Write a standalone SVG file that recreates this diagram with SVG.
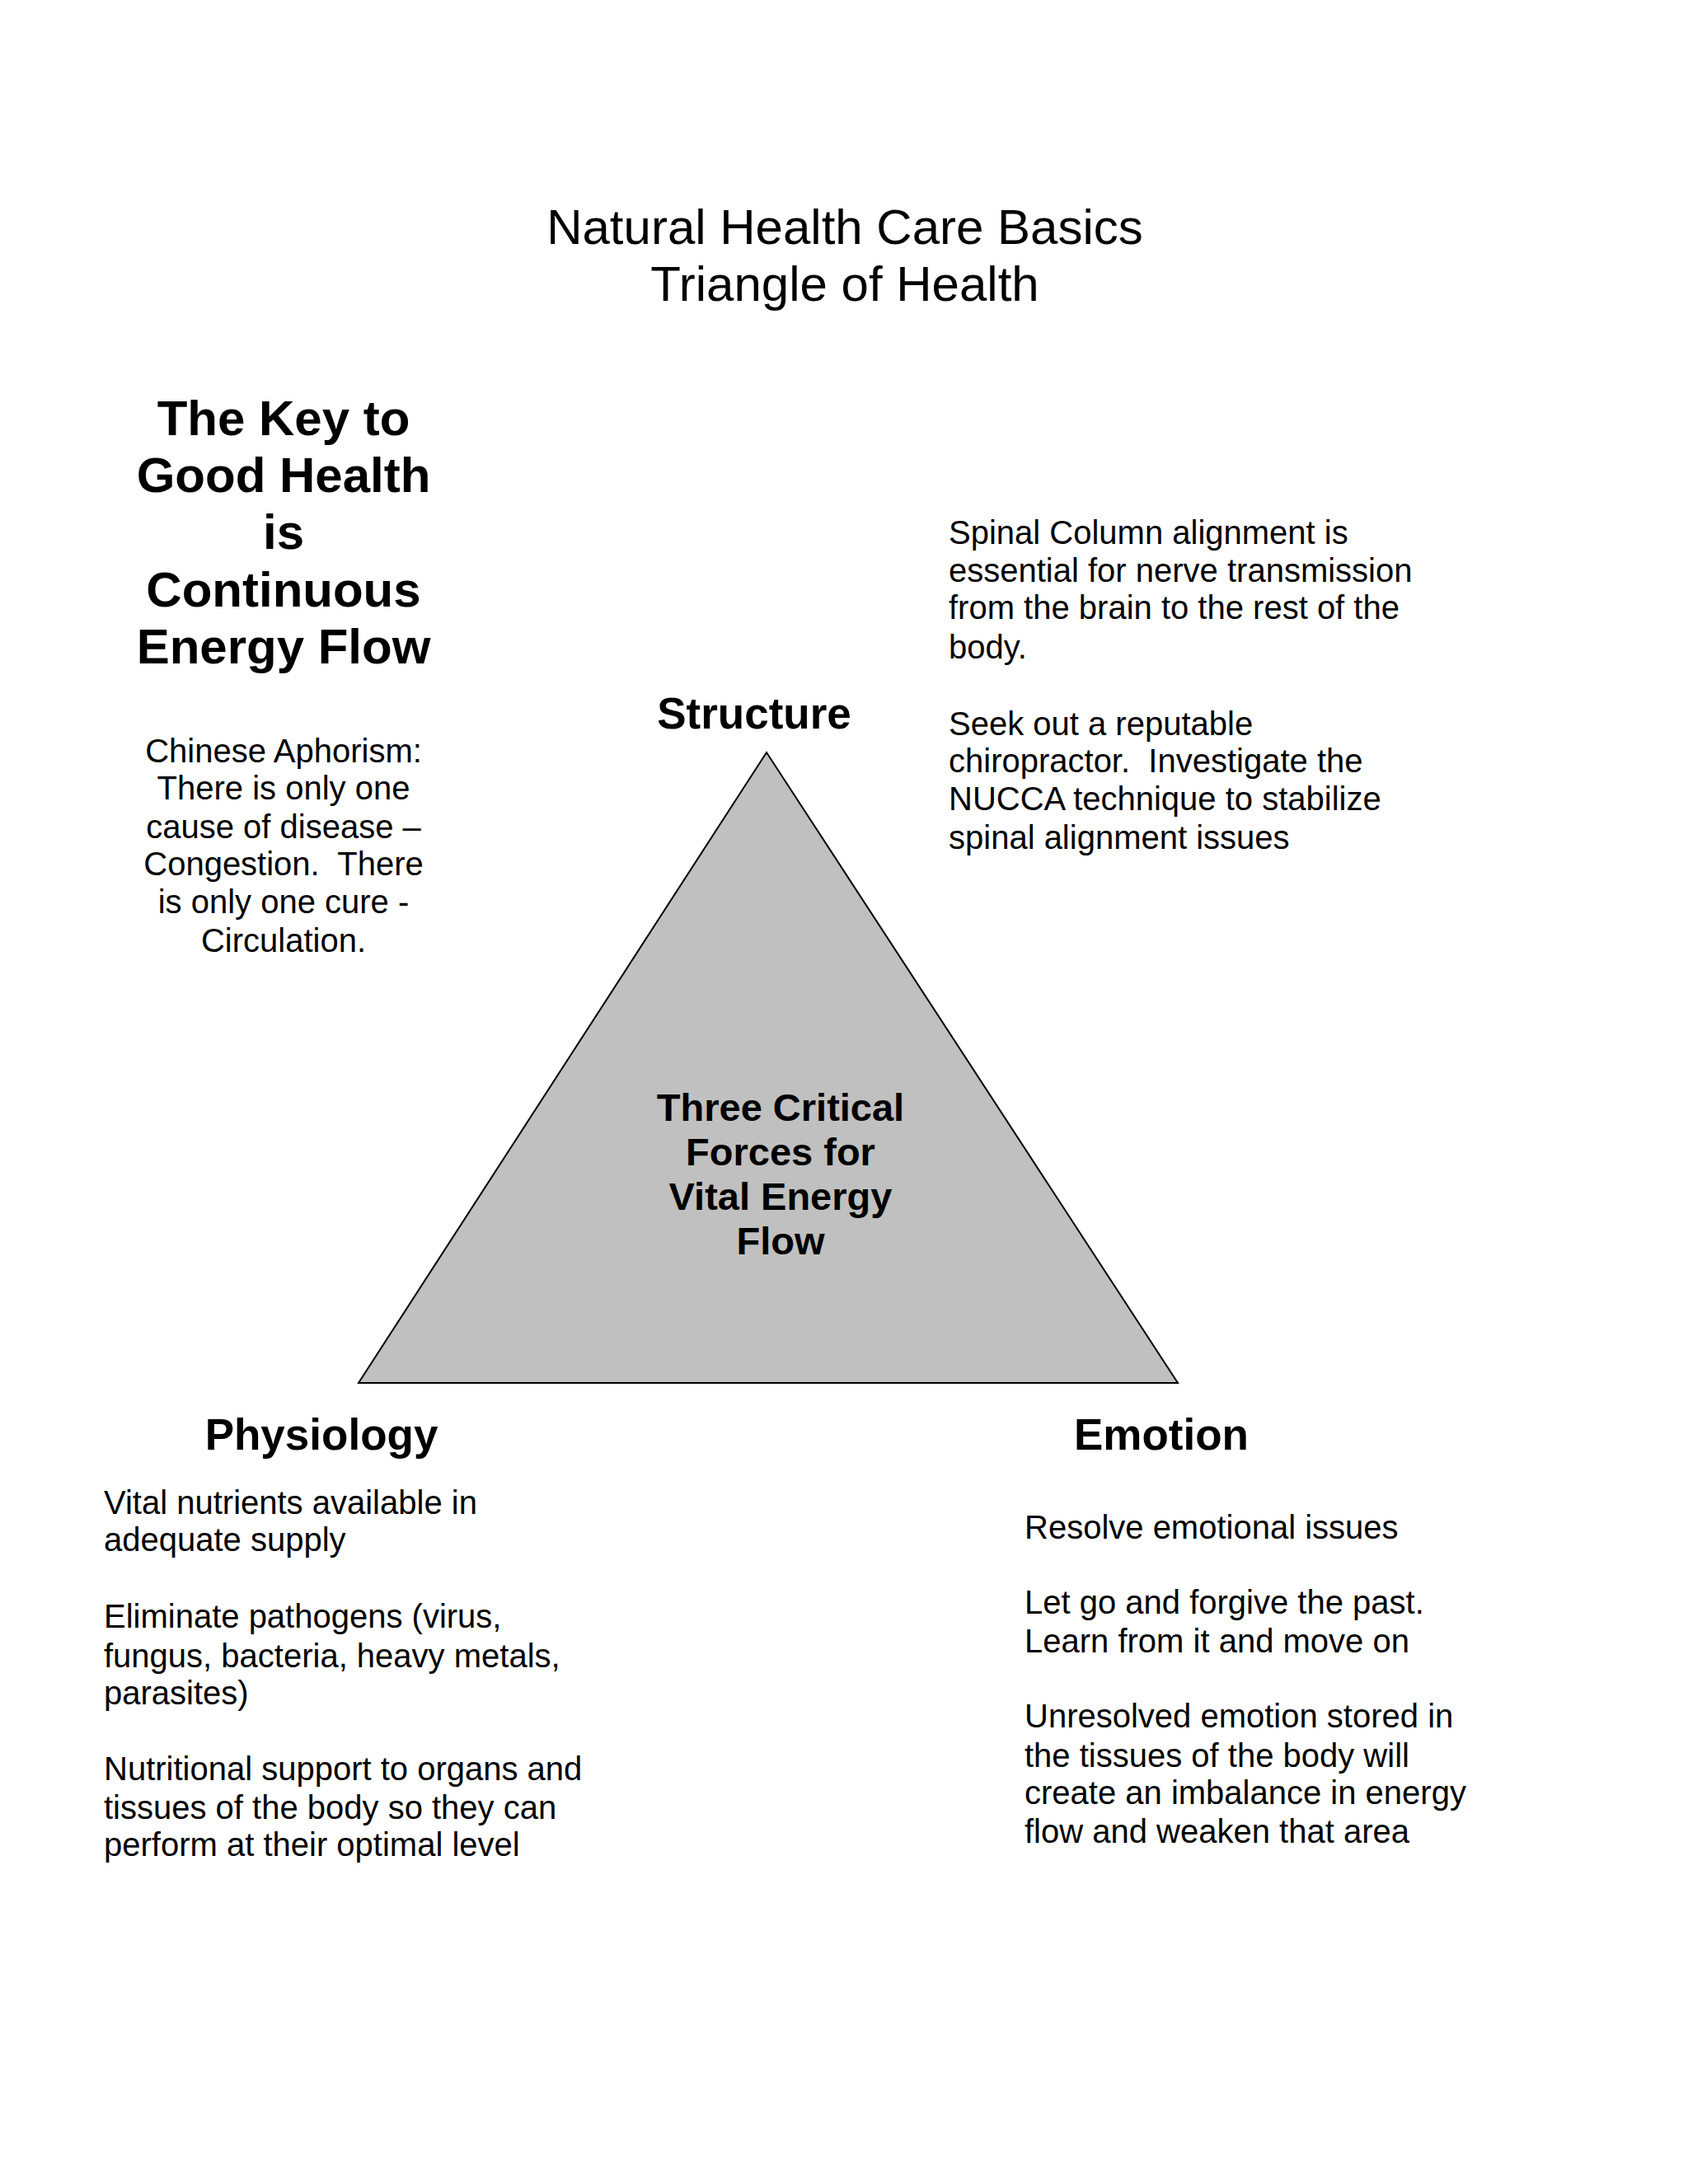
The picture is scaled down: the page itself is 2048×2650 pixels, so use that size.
<svg xmlns="http://www.w3.org/2000/svg" width="2048" height="2650" viewBox="0 0 2048 2650">
<style>
text{font-family:"Liberation Sans",Arial,sans-serif;fill:#000}
.t{font-size:60px;text-anchor:middle}
.h{font-size:60px;font-weight:bold;text-anchor:middle}
.b{font-size:40px}
.c{text-anchor:middle}
.l{font-size:53px;font-weight:bold;text-anchor:middle}
.m{font-size:47px;font-weight:bold;text-anchor:middle}
</style>
<rect width="2048" height="2650" fill="#fff"/>
<g id="title"><text class="t" x="1025" y="296">Natural Health Care Basics</text><text class="t" x="1025" y="365">Triangle of Health</text></g>
<g id="key"><text class="h" x="344" y="528">The Key to</text><text class="h" x="344" y="597">Good Health</text><text class="h" x="344" y="666">is</text><text class="h" x="344" y="736">Continuous</text><text class="h" x="344" y="805">Energy Flow</text></g>
<g id="aphorism"><text class="b c" x="344" y="925">Chinese Aphorism:</text><text class="b c" x="344" y="970">There is only one</text><text class="b c" x="344" y="1017">cause of disease –</text><text class="b c" x="344" y="1062">Congestion.&#160; There</text><text class="b c" x="344" y="1108">is only one cure -</text><text class="b c" x="344" y="1155">Circulation.</text></g>
<g id="triangle"><polygon points="930,913 435,1678 1429,1678" fill="#c0c0c0" stroke="#000" stroke-width="2"/>
<text class="m" x="947" y="1360">Three Critical</text><text class="m" x="947" y="1414">Forces for</text><text class="m" x="947" y="1468">Vital Energy</text><text class="m" x="947" y="1522">Flow</text></g>
<g id="structure"><text class="l" x="915" y="884">Structure</text>
<text class="b" x="1151" y="660">Spinal Column alignment is</text><text class="b" x="1151" y="706">essential for nerve transmission</text><text class="b" x="1151" y="751">from the brain to the rest of the</text><text class="b" x="1151" y="799">body.</text>
<text class="b" x="1151" y="892">Seek out a reputable</text><text class="b" x="1151" y="937">chiropractor.&#160; Investigate the</text><text class="b" x="1151" y="983">NUCCA technique to stabilize</text><text class="b" x="1151" y="1030">spinal alignment issues</text></g>
<g id="physiology"><text class="l" x="390" y="1759">Physiology</text>
<text class="b" x="126" y="1837">Vital nutrients available in</text><text class="b" x="126" y="1882">adequate supply</text>
<text class="b" x="126" y="1975">Eliminate pathogens (virus,</text><text class="b" x="126" y="2023">fungus, bacteria, heavy metals,</text><text class="b" x="126" y="2068">parasites)</text>
<text class="b" x="126" y="2160">Nutritional support to organs and</text><text class="b" x="126" y="2207">tissues of the body so they can</text><text class="b" x="126" y="2252">perform at their optimal level</text></g>
<g id="emotion"><text class="l" x="1409" y="1759">Emotion</text>
<text class="b" x="1243" y="1867">Resolve emotional issues</text>
<text class="b" x="1243" y="1958">Let go and forgive the past.</text><text class="b" x="1243" y="2005">Learn from it and move on</text>
<text class="b" x="1243" y="2096">Unresolved emotion stored in</text><text class="b" x="1243" y="2144">the tissues of the body will</text><text class="b" x="1243" y="2189">create an imbalance in energy</text><text class="b" x="1243" y="2236">flow and weaken that area</text></g>
<g id="connectors"></g>
</svg>
